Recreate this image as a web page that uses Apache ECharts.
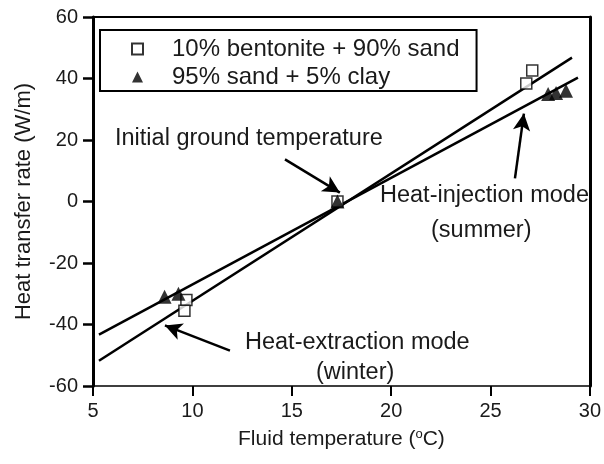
<!DOCTYPE html>
<html>
<head>
<meta charset="utf-8">
<script src="https://cdn.jsdelivr.net/npm/echarts@6/dist/echarts.min.js"></script>
<style>
  html, body { margin: 0; padding: 0; background: #fff; }
  #chart { width: 604px; height: 464px; }
</style>
</head>
<body>
<div id="chart"></div>
<script>
// measured points
const bentoniteTemp = [9.7, 9.6, 17.3, 26.8, 27.1];
const bentoniteRate = [-32, -35.5, 0, 38.4, 42.6];
const sandTemp = [8.6, 9.3, 17.3, 27.9, 28.3, 28.8];
const sandRate = [-31, -30, 0, 35, 35.3, 36];

// fitted lines (end points)
const fitBentonite = [[5.3, -51.8], [29.1, 46.8]];
const fitSand = [[5.3, -43.3], [29.4, 40.3]];

// arrows: [from, to]
const arrows = [
  [[14.66, 13.7], [17.42, 2.9]],
  [[26.23, 7.5], [26.68, 28.6]],
  [[11.89, -48.5], [8.62, -40.3]]
];

const xTicks = [5, 10, 15, 20, 25, 30];
const yTicks = [-60, -40, -20, 0, 20, 40, 60];

const names = ['10% bentonite + 90% sand', '95% sand + 5% clay'];
const FONT = 'Liberation Sans, Arial, sans-serif';
const TXT = '#1a1a1a';

const chart = echarts.init(document.getElementById('chart'));

const zip = (xs, ys) => xs.map((x, i) => [x, ys[i]]);

let option = {
  animation: false,
  textStyle: { fontFamily: FONT, color: TXT },
  grid: { left: 93, right: 14, top: 17, bottom: 78 },
  legend: {
    left: 100,
    top: 30,
    orient: 'vertical',
    padding: [7, 17, 2, 31],
    itemGap: 4,
    itemWidth: 11,
    itemHeight: 11,
    borderColor: '#000',
    borderWidth: 2,
    textStyle: { fontSize: 24, color: TXT, padding: [0, 0, 0, 24], fontFamily: FONT },
    data: [
      { name: names[0], icon: 'rect', itemStyle: { color: '#fff', borderColor: '#000', borderWidth: 2 } },
      { name: names[1], icon: 'triangle' }
    ]
  },
  xAxis: [
    {
      type: 'value',
      min: xTicks[0],
      max: xTicks[xTicks.length - 1],
      interval: 5,
      name: 'Fluid temperature ({sup|o}C)',
      nameLocation: 'middle',
      nameGap: 42,
      nameTextStyle: {
        fontSize: 21, color: TXT, fontFamily: FONT,
        rich: { sup: { fontSize: 13, verticalAlign: 'top', padding: [0, 0, 10, 0], color: TXT } }
      },
      axisLine: { show: true, onZero: false, lineStyle: { color: '#000', width: 1.5 } },
      axisTick: { show: true, inside: false, length: 10, lineStyle: { color: '#000', width: 2 } },
      axisLabel: { fontSize: 20, color: TXT, margin: 15 },
      splitLine: { show: false }
    },
    {
      type: 'value',
      position: 'top',
      min: 5, max: 30,
      axisLine: { show: true, onZero: false, lineStyle: { color: '#000', width: 2 } },
      axisTick: { show: false },
      axisLabel: { show: false },
      splitLine: { show: false }
    }
  ],
  yAxis: [
    {
      type: 'value',
      min: yTicks[0],
      max: yTicks[yTicks.length - 1],
      interval: 20,
      name: 'Heat transfer rate (W/m)',
      nameLocation: 'middle',
      nameGap: 58,
      nameTextStyle: { fontSize: 22, color: TXT, fontFamily: FONT },
      axisLine: { show: true, onZero: false, lineStyle: { color: '#000', width: 3 } },
      axisTick: { show: true, inside: false, length: 10, lineStyle: { color: '#000', width: 2.5 } },
      axisLabel: { fontSize: 20, color: TXT, margin: 15 },
      splitLine: { show: false }
    },
    {
      type: 'value',
      position: 'right',
      min: -60, max: 60,
      axisLine: { show: true, onZero: false, lineStyle: { color: '#000', width: 3 } },
      axisTick: { show: false },
      axisLabel: { show: false },
      splitLine: { show: false }
    }
  ],
  series: [
    {
      name: 'fit1',
      type: 'line',
      data: fitBentonite,
      showSymbol: false,
      lineStyle: { color: '#000', width: 2.5 },
      z: 2
    },
    {
      name: 'fit2',
      type: 'line',
      data: fitSand,
      showSymbol: false,
      lineStyle: { color: '#000', width: 2.5 },
      z: 2,
      markLine: {
        silent: true,
        symbol: ['none', 'arrow'],
        symbolSize: [13, 17],
        label: { show: false },
        lineStyle: { color: '#000', width: 2.5, type: 'solid' },
        data: arrows.map(a => [{ coord: a[0] }, { coord: a[1] }])
      }
    },
    {
      name: names[0],
      type: 'scatter',
      data: zip(bentoniteTemp, bentoniteRate),
      symbol: 'rect',
      symbolSize: 11,
      itemStyle: { color: '#fff', borderColor: '#000', borderWidth: 1.5 },
      z: 3
    },
    {
      name: names[1],
      type: 'scatter',
      data: zip(sandTemp, sandRate),
      symbol: 'triangle',
      symbolSize: 14,
      itemStyle: { color: '#000' },
      z: 4
    }
  ],
  graphic: [
    { type: 'text', left: 115, top: 127, style: { text: 'Initial ground temperature', font: '23.5px ' + FONT, fill: TXT } },
    { type: 'text', left: 380, top: 184, style: { text: 'Heat-injection mode', font: '23.5px ' + FONT, fill: TXT } },
    { type: 'text', left: 431, top: 219, style: { text: '(summer)', font: '23.5px ' + FONT, fill: TXT } },
    { type: 'text', left: 245, top: 331, style: { text: 'Heat-extraction mode', font: '23.5px ' + FONT, fill: TXT } },
    { type: 'text', left: 316, top: 361, style: { text: '(winter)', font: '23.5px ' + FONT, fill: TXT } }
  ]
};

chart.setOption(option);
</script>
</body>
</html>
